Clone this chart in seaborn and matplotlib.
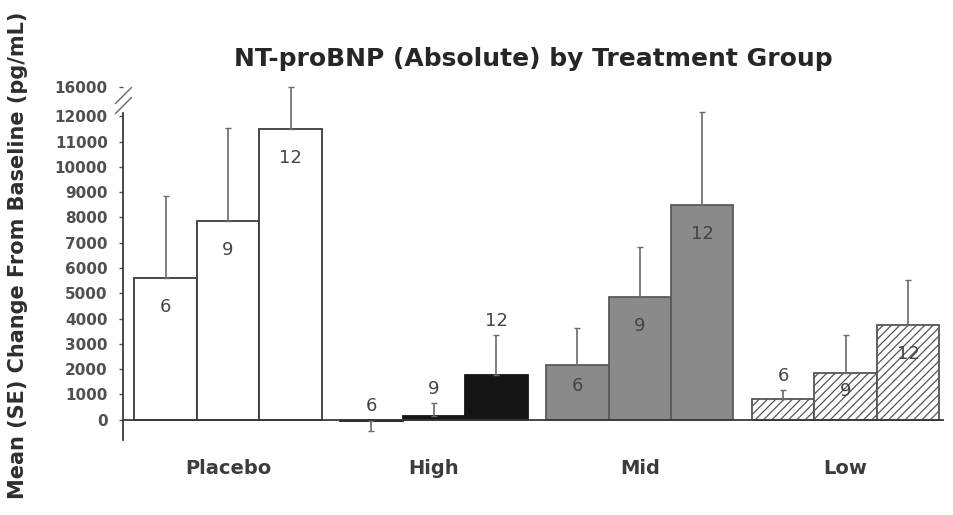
import numpy as np
import pandas as pd
import matplotlib
matplotlib.use("Agg")
import matplotlib.pyplot as plt
import matplotlib.transforms as mtransforms
import seaborn as sns

# Treatment groups and visits (n per bar)
groups = ["Placebo", "High", "Mid", "Low"]
visits = ["6", "9", "12"]

# Mean change from baseline (pg/mL), one list per visit, ordered like `groups`
mean_v6 = [5600, -50, 2170, 830]
mean_v9 = [7850, 150, 4860, 1860]
mean_v12 = [11500, 1780, 8500, 3750]

# Standard errors, same layout
se_v6 = [3250, 400, 1470, 360]
se_v9 = [3700, 500, 1980, 1500]
se_v12 = [4500, 1580, 4030, 1780]

y_ticks = list(range(0, 12001, 1000)) + [16000]

df = pd.DataFrame({
    "group": groups * 3,
    "visit": [v for v in visits for _ in groups],
    "change": mean_v6 + mean_v9 + mean_v12,
    "se": se_v6 + se_v9 + se_v12,
})

# Broken y axis: values above 12000 are compressed
BREAK = 12000.0
COMP = 0.29


def fwd(y):
    y = np.asarray(y, dtype=float)
    return np.where(y <= BREAK, y, BREAK + (y - BREAK) * COMP)


def inv(y):
    y = np.asarray(y, dtype=float)
    return np.where(y <= BREAK, y, BREAK + (y - BREAK) / COMP)


sns.set_theme(style="white")
plt.rcParams["font.family"] = ["DejaVu Sans"]
plt.rcParams["hatch.color"] = "#555555"
plt.rcParams["hatch.linewidth"] = 0.9

fig = plt.figure(figsize=(9.54, 5.15), dpi=100)
ax = fig.add_axes([0.129, 0.1456, 0.861, 0.694])
ax.set_yscale("function", functions=(fwd, inv))

sns.barplot(data=df, x="group", y="change", hue="visit", order=groups,
            hue_order=visits, width=0.91, errorbar=None, legend=False,
            dodge=True, ax=ax)

# Per-group bar styling; labels go above the bars on the dark group
styles = {
    "Placebo": dict(facecolor="white", edgecolor="#3a3a3a", hatch=None, above=False),
    "High": dict(facecolor="#141414", edgecolor="#141414", hatch=None, above=True),
    "Mid": dict(facecolor="#8a8a8a", edgecolor="#5a5a5a", hatch=None, above=False),
    "Low": dict(facecolor="white", edgecolor="#555555", hatch="////", above=False),
}

bars = [p for p in ax.patches if p.get_width() > 0]
bars.sort(key=lambda p: p.get_x())

for k, bar in enumerate(bars):
    gi, vi = divmod(k, len(visits))
    g = groups[gi]
    st = styles[g]
    bar.set_facecolor(st["facecolor"])
    bar.set_edgecolor(st["edgecolor"])
    bar.set_linewidth(1.3)
    if st["hatch"]:
        bar.set_hatch(st["hatch"])
    sub = df[(df.group == g) & (df.visit == visits[vi])].iloc[0]
    val, se = sub.change, sub.se
    xc = bar.get_x() + bar.get_width() / 2
    lower, upper = (se, 0) if val < 0 else (0, se)
    ax.errorbar(xc, val, yerr=[[lower], [upper]], fmt="none",
                ecolor="#6a6a6a", elinewidth=1.2, capsize=2.0,
                capthick=1.0, zorder=3)
    # n label: inside taller bars, above the error bar otherwise
    if val > 1500 and not st["above"]:
        ly = val - min(1150, 0.38 * val)
    else:
        ly = max(val, 0) + (se if val > 0 else 0) + 550
    ax.text(xc, ly, visits[vi], ha="center", va="center",
            fontsize=13, color="#444444", zorder=4)

ax.axhline(0, color="#3a3a3a", lw=1.3, zorder=2)

ax.set_xlim(-0.51, 3.48)
ax.set_ylim(-800, 16600)
ax.set_yticks(y_ticks)
ax.set_yticklabels([str(t) for t in y_ticks])
ax.set_xlabel("")
ax.set_ylabel("")

for s in ["top", "right", "bottom"]:
    ax.spines[s].set_visible(False)
ax.spines["left"].set_color("#3a3a3a")
ax.spines["left"].set_linewidth(1.3)
ax.spines["left"].set_bounds(-800, 12400)

ax.tick_params(axis="y", which="major", direction="out", length=3,
               width=1.0, color="#555555", labelsize=11, pad=8,
               labelcolor="#505050", left=True)
for lab in ax.get_yticklabels():
    lab.set_fontweight("bold")
ax.tick_params(axis="x", length=0, pad=14, labelcolor="#3c3c3c")
for lab in ax.get_xticklabels():
    lab.set_fontweight("bold")
    lab.set_fontsize(14)

# Break marks on the y axis
blend = mtransforms.blended_transform_factory(ax.transAxes, ax.transData)
for yb in [13600, 14900]:
    ax.plot([0], [yb], transform=blend, marker=[(-1, -1), (1, 1)],
            markersize=12, color="#666666", mew=1.0, clip_on=False)

ax.set_title("NT-proBNP (Absolute) by Treatment Group", fontsize=18,
             color="#262626", pad=12, fontweight="bold")
fig.text(0.019, 0.505, "Mean (SE) Change From Baseline (pg/mL)",
         rotation=90, ha="center", va="center", fontsize=15,
         fontweight="bold", color="#2e2e2e")

fig.savefig("out.png", dpi=100, facecolor="white")
